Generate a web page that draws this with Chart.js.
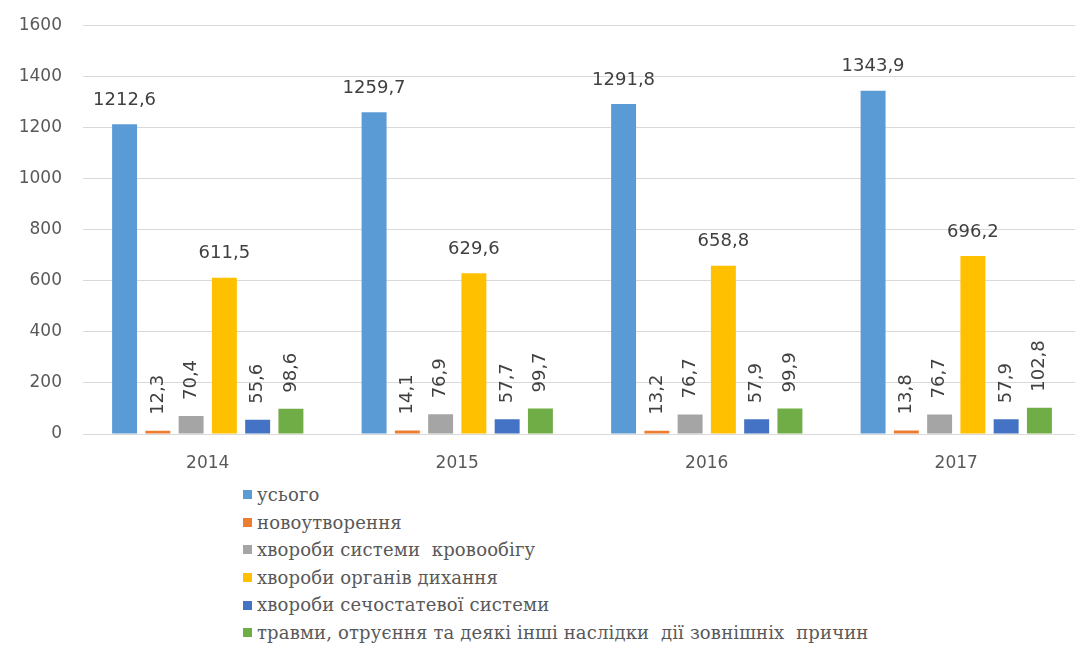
<!DOCTYPE html>
<html>
<head>
<meta charset="utf-8">
<script src="https://cdn.jsdelivr.net/npm/chart.js@4.4.1/dist/chart.umd.min.js"></script>
<style>
    html, body { margin: 0; padding: 0; background: #ffffff; overflow: hidden; }
    #wrap { position: relative; width: 1075px; height: 646px; overflow: hidden; }
    #chart { position: absolute; left: 0; top: -6px; }
    #legend { position: absolute; left: 243px; top: 481px; font-family: 'DejaVu Serif', serif; font-size: 18px; letter-spacing: 0.15px; color: #595959; }
    .legend-line { height: 27.6px; line-height: 27.6px; white-space: pre; display: flex; align-items: center; }
    .legend-box { width: 9px; height: 9px; margin-right: 5px; flex: none; }
</style>
</head>
<body>
<div id="wrap">
    <canvas id="chart" width="1090" height="486"></canvas>
    <div id="legend"></div>
</div>
<script>
const years = ['2014', '2015', '2016', '2017']
const total = [1212.6, 1259.7, 1291.8, 1343.9]
const neoplasms = [12.3, 14.1, 13.2, 13.8]
const circulatory = [70.4, 76.9, 76.7, 76.7]
const respiratory = [611.5, 629.6, 658.8, 696.2]
const genitourinary = [55.6, 57.7, 57.9, 57.9]
const injuries = [98.6, 99.7, 99.9, 102.8]

const seriesNames = [
    'усього',
    'новоутворення',
    'хвороби системи  кровообігу',
    'хвороби органів дихання',
    'хвороби сечостатевої системи',
    'травми, отруєння та деякі інші наслідки  дії зовнішніх  причин'
]
const seriesValues = [total, neoplasms, circulatory, respiratory, genitourinary, injuries]
const seriesColors = ['#5b9bd5', '#ed7d31', '#a5a5a5', '#ffc000', '#4472c4', '#70ad47']
// which series get horizontal labels, the rest are rotated
const flatLabels = [0, 3]

const fmt = v => v.toFixed(1).replace('.', ',')

const barLabels = {
    id: 'barLabels',
    afterDatasetsDraw(chart) {
        const ctx = chart.ctx
        ctx.save()
        ctx.font = '18px "DejaVu Sans"'
        ctx.fillStyle = '#404040'
        chart.data.datasets.forEach((ds, i) => {
            const meta = chart.getDatasetMeta(i)
            meta.data.forEach((bar, j) => {
                const txt = fmt(ds.data[j])
                if (flatLabels.includes(i)) {
                    ctx.textAlign = 'center'
                    ctx.textBaseline = 'bottom'
                    ctx.fillText(txt, bar.x, bar.y - 15)
                } else {
                    ctx.save()
                    ctx.translate(bar.x, bar.y - 16)
                    ctx.rotate(-Math.PI / 2)
                    ctx.textAlign = 'left'
                    ctx.textBaseline = 'middle'
                    ctx.fillText(txt, 0, 0)
                    ctx.restore()
                }
            })
        })
        ctx.restore()
    }
}

const tickFont = { family: 'DejaVu Sans', size: 17 }

new Chart(document.getElementById('chart'), {
    type: 'bar',
    data: {
        labels: years,
        datasets: seriesNames.map((name, i) => ({
            label: name,
            data: seriesValues[i],
            backgroundColor: seriesColors[i],
            borderWidth: 0,
            categoryPercentage: 0.8,
            barPercentage: 0.75
        }))
    },
    options: {
        responsive: false,
        animation: false,
        layout: { padding: { top: 12, right: 9, left: 0, bottom: 0 } },
        plugins: {
            legend: { display: false },
            tooltip: { enabled: false }
        },
        scales: {
            x: {
                grid: { display: false },
                border: { display: false },
                ticks: { color: '#595959', font: tickFont, padding: 11 },
                afterFit(scale) { scale.height = 46 }
            },
            y: {
                min: 0,
                max: 1600,
                ticks: { stepSize: 200, color: '#595959', font: tickFont, padding: 21, callback: v => String(v) },
                grid: { color: '#d9d9d9', drawTicks: false },
                border: { display: false },
                afterFit(scale) { scale.width = 83 }
            }
        }
    },
    plugins: [barLabels]
})

// vertical legend under the chart
const legend = document.getElementById('legend')
seriesNames.forEach((name, i) => {
    const line = document.createElement('div')
    line.classList.add('legend-line')
    line.innerHTML = `<span class="legend-box" style="background:${seriesColors[i]}"></span><span>${name}</span>`
    legend.appendChild(line)
})
</script>
</body>
</html>
